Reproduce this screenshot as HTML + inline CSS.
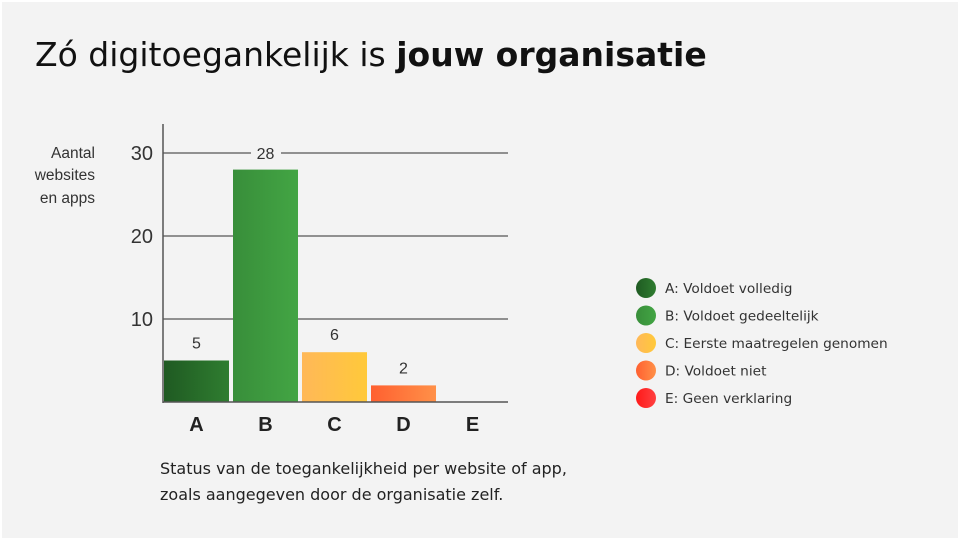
<!DOCTYPE html>
<html><head><meta charset="utf-8"><style>
body{margin:0;width:960px;height:540px;background:#fff;font-family:"Liberation Sans",sans-serif;overflow:hidden}
#bg{position:absolute;left:2px;top:2px;width:956px;height:536px;background:#f3f3f3}
h1{position:absolute;left:35px;top:35px;margin:0;font-family:"DejaVu Sans",sans-serif;font-size:33px;font-weight:normal;color:#111;white-space:nowrap}
svg{position:absolute;left:0;top:0}
</style></head><body>
<div id="bg"></div>
<h1>Zó digitoegankelijk is <b>jouw organisatie</b></h1>
<svg id="c" width="960" height="540">
<defs>
<linearGradient id="gA"><stop offset="0" stop-color="#1f5a22"/><stop offset="1" stop-color="#2f7d30"/></linearGradient>
<linearGradient id="gB"><stop offset="0" stop-color="#388e3a"/><stop offset="1" stop-color="#43a544"/></linearGradient>
<linearGradient id="gC"><stop offset="0" stop-color="#ffb858"/><stop offset="1" stop-color="#ffc93a"/></linearGradient>
<linearGradient id="gD"><stop offset="0" stop-color="#ff6030"/><stop offset="1" stop-color="#ff9048"/></linearGradient>
<linearGradient id="gE"><stop offset="0" stop-color="#ff1a1a"/><stop offset="1" stop-color="#ff4040"/></linearGradient>
</defs>
</svg>
<script>
const categories=["A","B","C","D","E"];
const values=[5,28,6,2,0];
const ticks=[10,20,30];
const legendLabels=["A: Voldoet volledig","B: Voldoet gedeeltelijk","C: Eerste maatregelen genomen","D: Voldoet niet","E: Geen verklaring"];
const svg=document.getElementById('c');
const NS='http://www.w3.org/2000/svg';
const x0=163,x1=508,base=402,unit=8.3,band=69,bw=65;
const y=v=>base-v*unit;
const xb=i=>x0+i*band+1;
function mk(t,a,txt){const e=document.createElementNS(NS,t);for(const k in a)e.setAttribute(k,a[k]);if(txt!==undefined)e.textContent=txt;svg.appendChild(e);return e;}
ticks.forEach(t=>{
 const l=mk('line',{x1:x0,x2:x1,y1:y(t),y2:y(t),stroke:'#555','stroke-width':1.3});
 
 
 const tx=mk('text',{x:153,y:y(t)+7,'text-anchor':'end','font-size':20,fill:'#333'},t);
 
 
});
const yt=[["Aantal",158],["websites",180],["en apps",203]];
yt.forEach(r=>{const t=mk('text',{x:95,y:r[1],'text-anchor':'end','font-size':15.5,fill:'#333'},r[0]);
 
 });
categories.forEach((c,i)=>{
 const v=values[i];
 if(v>0){
  const r=mk('rect',{x:xb(i),y:y(v),width:bw,height:base-y(v),fill:'url(#g'+c+')'});
  
  
  if(i===1){mk('rect',{x:xb(i)+18,y:y(30)-10,width:30,height:20,fill:'#f3f3f3'});}
  const lt=mk('text',{x:xb(i)+bw/2,y:(i===1?y(30)+6:y(v)-12),'text-anchor':'middle','font-size':16,fill:'#333'},v);
  
  
 }
 const cl=mk('text',{x:xb(i)+bw/2,y:431,'text-anchor':'middle','font-size':20,'font-weight':'bold',fill:'#222'},c);
 
 
});
const ax=mk('line',{x1:x0,x2:x0,y1:124,y2:base+1,stroke:'#555','stroke-width':1.5});


const bx=mk('line',{x1:x0,x2:x1,y1:base,y2:base,stroke:'#555','stroke-width':1.5});


legendLabels.forEach((l,i)=>{
 const cy=288+i*27.5;
 const c=mk('circle',{cx:646,cy:cy,r:10,fill:'url(#g'+categories[i]+')'});
 
 
 const t=mk('text',{x:665,y:cy+5,'font-size':13.7,'font-family':'DejaVu Sans, sans-serif',fill:'#333'},l);
 
 
});
[["Status van de toegankelijkheid per website of app,",474],["zoals aangegeven door de organisatie zelf.",500]].forEach(r=>{
 const t=mk('text',{x:160,y:r[1],'font-size':16,'font-family':'DejaVu Sans, sans-serif',fill:'#222'},r[0]);
 
 
});
</script>
</body></html>
